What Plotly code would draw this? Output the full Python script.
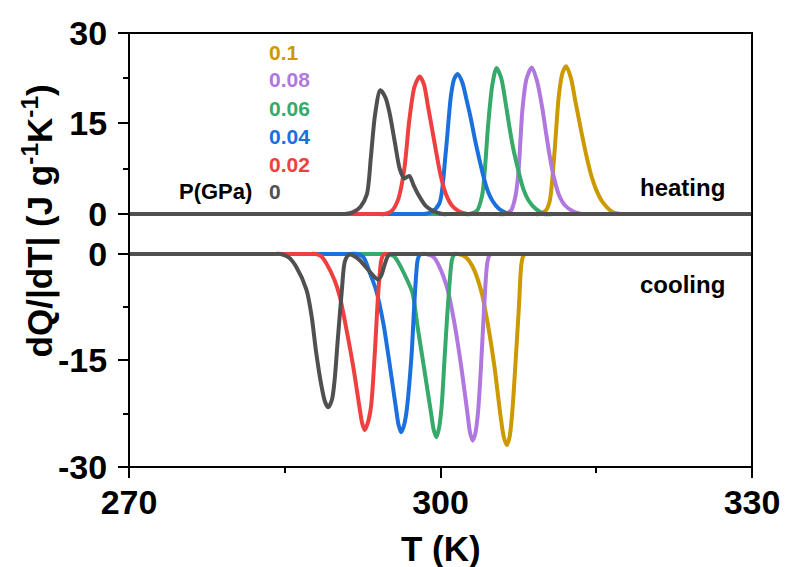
import plotly.graph_objects as go

# ---- pressure series (GPa) and their colours ----
pressure_labels = ["0.1", "0.08", "0.06", "0.04", "0.02", "0"]
series_colors = ["#cc9900", "#b078de", "#35aa6a", "#1a70dc", "#ef4040", "#505050"]

# ---- heating branch: T (K) and dQ/|dT| (J g^-1 K^-1) ----
heat_T_010 = [270, 308.7, 309.5, 310.1, 310.5, 310.96, 311.4, 311.75, 312.1, 312.55, 313.0, 313.35, 313.7, 314.1, 314.5, 315.0, 315.6, 316.6, 317.5, 318.3, 330]
heat_Q_010 = [0, 0, 0, 0.5, 2.0, 9.8, 19.7, 23.4, 24.5, 22.6, 18.6, 15.5, 12.5, 9.3, 6.5, 4.0, 2.0, 0.3, 0, 0, 0]

heat_T_008 = [270, 305.4, 306.2, 306.8, 307.2, 307.5, 307.9, 308.3, 308.8, 309.3, 309.8, 310.15, 310.5, 310.9, 311.4, 312.0, 312.8, 313.6, 314.4, 330]
heat_Q_008 = [0, 0, 0, 0.6, 2.8, 6.8, 17.5, 22.5, 24.3, 22.0, 17.6, 13.6, 9.8, 6.2, 3.2, 1.4, 0.4, 0, 0, 0]

heat_T_006 = [270, 302.0, 302.8, 303.5, 304.0, 304.3, 304.6, 305.0, 305.4, 305.85, 306.3, 306.65, 307.0, 307.5, 307.95, 308.5, 309.2, 310.0, 310.8, 330]
heat_Q_006 = [0, 0, 0, 0.5, 3.0, 8.0, 15.0, 21.5, 24.2, 22.5, 18.1, 14.3, 10.9, 7.2, 4.3, 2.2, 0.8, 0, 0, 0]

heat_T_004 = [270, 297.6, 298.4, 299.2, 299.9, 300.5, 301.0, 301.3, 301.65, 302.1, 302.5, 302.9, 303.3, 303.75, 304.2, 304.6, 305.0, 305.6, 306.3, 307.0, 307.8, 330]
heat_Q_004 = [0, 0, 0, 0.4, 1.8, 10.1, 19.5, 22.3, 23.2, 21.8, 19.0, 16.0, 12.5, 9.0, 5.8, 3.6, 2.2, 0.9, 0.2, 0, 0, 0]

heat_T_002 = [270, 293.8, 294.6, 295.3, 295.9, 296.5, 297.0, 297.5, 298.0, 298.4, 298.8, 299.2, 299.6, 300.0, 300.5, 301.1, 301.8, 302.6, 303.4, 330]
heat_Q_002 = [0, 0, 0, 0.5, 2.3, 7.3, 15.6, 21.1, 22.8, 21.5, 17.8, 14.0, 10.1, 6.5, 3.4, 1.4, 0.4, 0, 0, 0]

heat_T_000 = [270, 290.0, 290.8, 291.6, 292.3, 292.9, 293.3, 293.7, 294.2, 294.7, 295.1, 295.6, 296.1, 296.5, 297.0, 297.4, 297.8, 298.6, 299.3, 300.2, 301.0, 330]
heat_Q_000 = [0, 0, 0, 0.3, 1.2, 3.2, 9.5, 16.5, 20.5, 19.3, 16.7, 11.9, 7.3, 5.9, 6.3, 4.8, 3.4, 1.3, 0.5, 0, 0, 0]

# ---- cooling branch ----
cool_T_010 = [270, 300.9, 301.7, 302.4, 303.1, 303.9, 304.55, 305.2, 305.8, 306.1, 306.4, 306.65, 306.9, 307.2, 307.55, 307.8, 308.0, 308.25, 308.7, 330]
cool_Q_010 = [0, 0, 0, -0.4, -1.8, -5.1, -9.8, -15.9, -23.0, -25.8, -26.9, -25.8, -22.5, -15.9, -7.5, -1.3, -0.2, 0, 0, 0]

cool_T_008 = [270, 297.8, 298.6, 299.3, 299.9, 300.7, 301.35, 302.0, 302.6, 302.85, 303.1, 303.35, 303.6, 303.9, 304.2, 304.5, 304.7, 304.95, 305.4, 330]
cool_Q_008 = [0, 0, 0, -0.4, -1.8, -5.1, -9.8, -15.9, -22.5, -25.2, -26.3, -25.3, -22.5, -15.9, -7.5, -1.3, -0.2, 0, 0, 0]

cool_T_006 = [270, 294.1, 294.9, 295.5, 295.8, 296.8, 297.3, 297.8, 298.4, 299.1, 299.35, 299.6, 299.85, 300.1, 300.4, 300.75, 301.1, 301.3, 301.55, 302.0, 330]
cool_Q_006 = [0, 0, 0, -0.3, -0.85, -3.7, -5.5, -10.3, -15.9, -22.5, -24.8, -25.8, -24.6, -21.6, -14.5, -6.5, -0.85, -0.1, 0, 0, 0]

cool_T_004 = [270, 291.2, 292.0, 292.6, 293.2, 293.8, 294.5, 295.1, 295.7, 295.95, 296.2, 296.45, 296.7, 297.2, 297.5, 297.8, 298.0, 298.25, 298.7, 330]
cool_Q_004 = [0, 0, 0, -0.5, -2.7, -5.1, -9.8, -15.5, -21.6, -24.0, -25.1, -24.3, -22.5, -14.5, -6.5, -0.85, -0.1, 0, 0, 0]

cool_T_002 = [270, 287.2, 288.0, 288.5, 289.0, 289.8, 290.3, 290.9, 291.6, 292.2, 292.45, 292.7, 292.95, 293.3, 293.65, 294.0, 294.3, 294.5, 294.75, 295.2, 330]
cool_Q_002 = [0, 0, 0, -0.3, -1.3, -3.7, -6.0, -10.3, -15.9, -21.6, -23.8, -24.8, -24.0, -21.6, -14.5, -5.6, -0.85, -0.1, 0, 0, 0]

cool_T_000 = [270, 283.8, 284.6, 285.4, 286.1, 287.1, 287.6, 288.0, 288.5, 288.9, 289.2, 289.55, 289.8, 290.1, 290.5, 290.8, 291.2, 291.7, 292.2, 293.2, 293.7, 294.0, 294.3, 294.6, 294.9, 295.1, 295.4, 295.9, 330]
cool_Q_000 = [0, 0, 0, -0.5, -1.8, -5.1, -8.9, -13.6, -18.3, -20.9, -21.6, -20.5, -17.8, -12.2, -5.1, -1.0, -0.1, -0.3, -0.85, -2.5, -3.3, -3.6, -3.0, -1.6, -0.4, -0.05, 0, 0, 0]

heating = [(heat_T_010, heat_Q_010), (heat_T_008, heat_Q_008), (heat_T_006, heat_Q_006),
           (heat_T_004, heat_Q_004), (heat_T_002, heat_Q_002), (heat_T_000, heat_Q_000)]
cooling = [(cool_T_010, cool_Q_010), (cool_T_008, cool_Q_008), (cool_T_006, cool_Q_006),
           (cool_T_004, cool_Q_004), (cool_T_002, cool_Q_002), (cool_T_000, cool_Q_000)]

# ---- axis ticks ----
x_tickvals = [270, 300, 330]
x_ticktext = ["270", "300", "330"]
heat_tickvals = [0, 15, 30]
heat_ticktext = ["0", "15", "30"]
cool_tickvals = [-30, -15, 0]
cool_ticktext = ["-30", "-15", "0"]

FONT = "Liberation Sans, Arial, sans-serif"
LINE_W = 4

fig = go.Figure()
for (t, q), c in zip(heating, series_colors):
    fig.add_trace(go.Scatter(x=t, y=q, mode="lines", xaxis="x", yaxis="y",
                             line=dict(color=c, width=LINE_W, shape="spline", smoothing=0.8),
                             showlegend=False, hoverinfo="skip"))
for (t, q), c in zip(cooling, series_colors):
    fig.add_trace(go.Scatter(x=t, y=q, mode="lines", xaxis="x", yaxis="y2",
                             line=dict(color=c, width=LINE_W, shape="spline", smoothing=0.8),
                             showlegend=False, hoverinfo="skip"))

tick_font = dict(family=FONT, size=34, color="black", weight="bold")
split = 0.5369

fig.update_layout(
    width=785, height=567,
    margin=dict(l=129, r=33, t=33, b=100),
    paper_bgcolor="white", plot_bgcolor="white",
    xaxis=dict(domain=[0, 1], anchor="y2", range=[270, 330], automargin=False,
               tickmode="array", tickvals=x_tickvals, ticktext=x_ticktext,
               ticks="outside", ticklen=10, tickwidth=2, tickcolor="black",
               ticklabelstandoff=-5,
               minor=dict(tickmode="array", tickvals=[285, 315], ticks="outside",
                          ticklen=5, tickwidth=2, tickcolor="black"),
               showgrid=False, zeroline=False, showline=False, tickfont=tick_font),
    yaxis=dict(domain=[split, 1], anchor="x", range=[-3.315, 30], automargin=False,
               tickmode="array", tickvals=heat_tickvals, ticktext=heat_ticktext,
               ticks="outside", ticklen=10, tickwidth=2, tickcolor="black",
               ticklabelstandoff=4,
               minor=dict(tickmode="array", tickvals=[7.5, 22.5], ticks="outside",
                          ticklen=5, tickwidth=2, tickcolor="black"),
               showgrid=False, zeroline=False, showline=False, tickfont=tick_font),
    yaxis2=dict(domain=[0, split], anchor="x", range=[-30, 2.817], automargin=False,
                tickmode="array", tickvals=cool_tickvals, ticktext=cool_ticktext,
                ticks="outside", ticklen=10, tickwidth=2, tickcolor="black",
                ticklabelstandoff=4,
                minor=dict(tickmode="array", tickvals=[-22.5, -7.5], ticks="outside",
                           ticklen=5, tickwidth=2, tickcolor="black"),
                showgrid=False, zeroline=False, showline=False, tickfont=tick_font),
    shapes=[dict(type="rect", xref="paper", yref="paper", x0=0, x1=1, y0=0, y1=1,
                 line=dict(color="black", width=2), fillcolor="rgba(0,0,0,0)", layer="above")],
)

annotations = []
# pressure labels, stacked top to bottom
label_y = [0.956, 0.892, 0.827, 0.762, 0.697, 0.634]
for txt, c, yy in zip(pressure_labels, series_colors, label_y):
    annotations.append(dict(text=txt, xref="paper", yref="paper", x=0.221, y=yy,
                            xanchor="left", yanchor="middle", showarrow=False,
                            font=dict(family=FONT, size=21, color=c, weight="bold")))
annotations.append(dict(text="P(GPa)", xref="paper", yref="paper", x=0.201, y=0.634,
                        xanchor="right", yanchor="middle", showarrow=False,
                        font=dict(family=FONT, size=22, color="black", weight="bold")))
annotations.append(dict(text="heating", xref="paper", yref="paper", x=0.96, y=0.645,
                        xanchor="right", yanchor="middle", showarrow=False,
                        font=dict(family=FONT, size=24, color="black", weight="bold")))
annotations.append(dict(text="cooling", xref="paper", yref="paper", x=0.96, y=0.42,
                        xanchor="right", yanchor="middle", showarrow=False,
                        font=dict(family=FONT, size=24, color="black", weight="bold")))
annotations.append(dict(text="dQ/|dT| (J g<sup>-1</sup>K<sup>-1</sup>)", xref="paper", yref="paper",
                        x=-0.146, y=0.566, textangle=-90, xanchor="center", yanchor="middle",
                        showarrow=False,
                        font=dict(family=FONT, size=35, color="black", weight="bold")))
annotations.append(dict(text="T (K)", xref="paper", yref="paper", x=0.5, y=-0.187,
                        xanchor="center", yanchor="middle", showarrow=False,
                        font=dict(family=FONT, size=35, color="black", weight="bold")))
fig.update_layout(annotations=annotations)

fig.write_html("out.html")
